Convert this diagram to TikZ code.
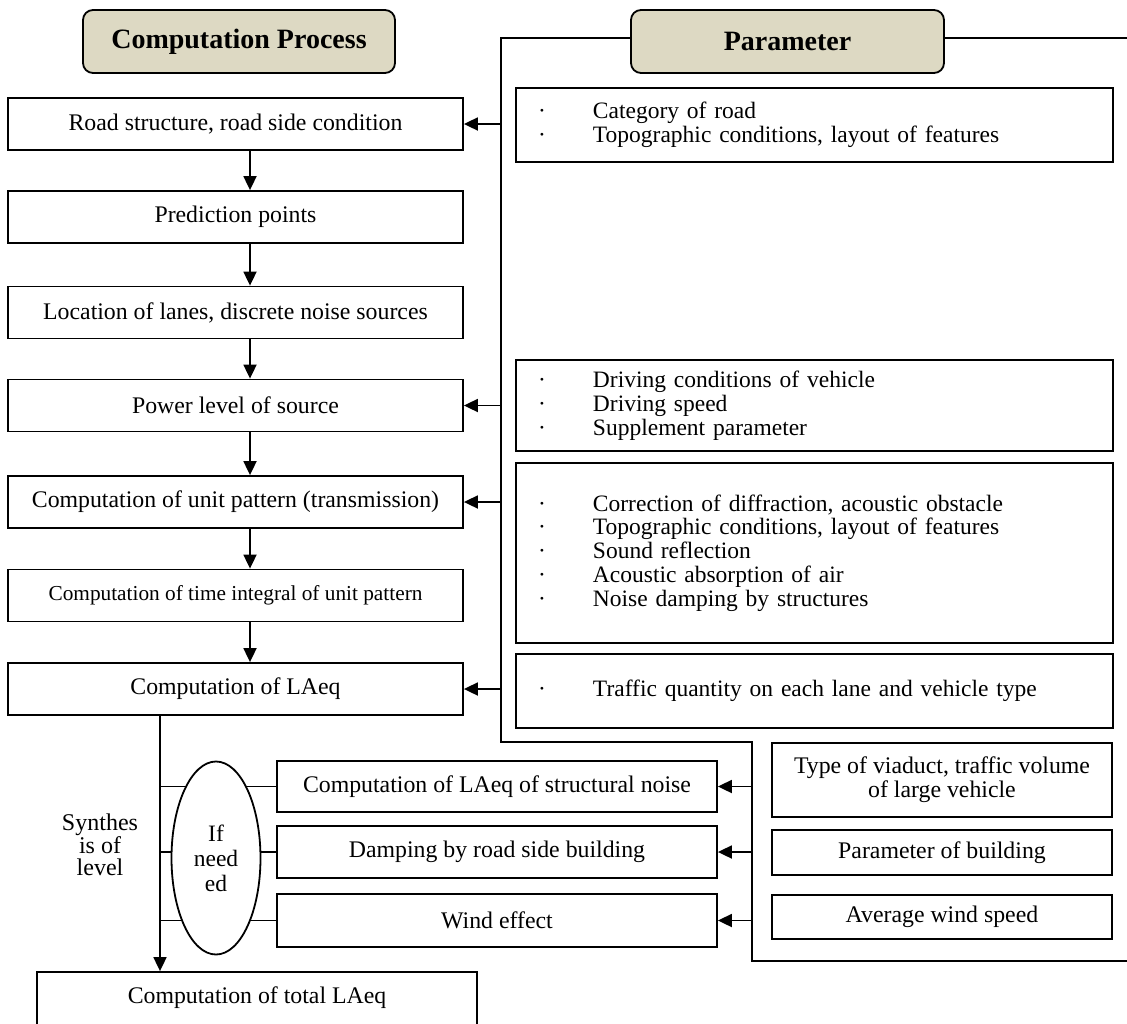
\documentclass[tikz,border=0pt]{standalone}
\usepackage{fontspec}
\setmainfont{Liberation Serif}
\usetikzlibrary{shapes.geometric,arrows.meta}
\definecolor{tanfill}{HTML}{DDD9C3}
\newcommand\parItem[1]{\hspace*{22pt}\makebox[55pt][l]{·}#1}
\begin{document}
\begin{tikzpicture}[x=1pt,y=-1pt,
  box/.style={draw, line width=1.8pt, minimum height=52pt, inner sep=0pt, font=\fontsize{23.8}{24}\selectfont, align=center},
  mainbox/.style={box, minimum width=455pt},
  subbox/.style={box, minimum width=440pt},
  rbox/.style={box, minimum width=340pt},
  titlebox/.style={draw, line width=1.8pt, fill=tanfill, rounded corners=10pt, minimum width=312pt, minimum height=63pt, font=\fontsize{28}{30}\selectfont\bfseries},
  parbox/.style={draw, line width=1.8pt, inner sep=0pt, minimum width=597pt, text width=597pt, align=left, font=\fontsize{23.5}{23.8}\selectfont},
  arr/.style={line width=1.8pt, -{Triangle[length=14pt,width=13pt]}},
  conn/.style={line width=1.8pt},
  bracket/.style={line width=2.6pt},
]
\useasboundingbox (0,0) rectangle (1127,1023);

% bracket around parameters
\coordinate (bA) at (1127,38);
\coordinate (bB) at (501,38);
\coordinate (bC) at (501,742);
\coordinate (bD) at (752,742);
\coordinate (bE) at (752,961);
\coordinate (bF) at (1127,961);
\draw[bracket] (bA) -- (bB) -- (bC) -- (bD) -- (bE) -- (bF);

% titles
\node[titlebox] (tcp) at (239,41.5) {Computation Process};
\node[titlebox, minimum width=313pt] (tpar) at (787.5,41.5) {Parameter};

% main process boxes
\node[mainbox] (road) at (235.5,124) {Road structure, road side condition};
\node[mainbox] (pred) at (235.5,217) {Prediction points};
\node[mainbox] (loc) at (235.5,312.5) {Location of lanes, discrete noise sources};
\node[mainbox] (pow) at (235.5,405.5) {Power level of source};
\node[mainbox] (unit) at (235.5,502) {Computation of unit pattern (transmission)};
\node[mainbox, font=\fontsize{21.3}{22}\selectfont] (tint) at (235.5,595.5) {Computation of time integral of unit pattern};
\node[mainbox] (laeq) at (235.5,689) {Computation of LAeq};
\node[box, minimum width=440pt, minimum height=56pt] (total) at (257,1000) {};
\node[font=\fontsize{23.8}{24}\selectfont] (totaltxt) at (257,998) {Computation of total LAeq};

% parameter boxes
\node[parbox, minimum height=74pt] (cat) at (814.5,125) {\parItem{Category of road}\\\parItem{Topographic conditions, layout of features}};
\node[parbox, minimum height=91pt] (drv) at (814.5,405.5) {\parItem{Driving conditions of vehicle}\\\parItem{Driving speed}\\\parItem{Supplement parameter}};
\node[parbox, minimum height=180pt] (corr) at (814.5,553) {\parItem{Correction of diffraction, acoustic obstacle}\\\parItem{Topographic conditions, layout of features}\\\parItem{Sound reflection}\\\parItem{Acoustic absorption of air}\\\parItem{Noise damping by structures}};
\node[parbox, minimum height=74pt] (traf) at (814.5,691) {\parItem{Traffic quantity on each lane and vehicle type}};

% sub boxes
\node[subbox, minimum height=51pt] (s1) at (497,786.5) {Computation of LAeq of structural noise};
\node[subbox] (s2) at (497,852) {Damping by road side building};
\node[subbox, minimum height=53pt] (s3) at (497,920.5) {Wind effect};

% right boxes
\node[rbox, minimum height=74pt] (r1) at (942,780) {Type of viaduct, traffic volume\\of large vehicle};
\node[rbox, minimum height=45pt] (r2) at (942,852.5) {Parameter of building};
\node[rbox, minimum height=44pt] (r3) at (942,917) {Average wind speed};

% vertical arrows in main chain
\coordinate (ax) at (250,0);
\draw[arr] (road.south -| ax) -- (pred.north -| ax);
\draw[arr] (pred.south -| ax) -- (loc.north -| ax);
\draw[arr] (loc.south -| ax) -- (pow.north -| ax);
\draw[arr] (pow.south -| ax) -- (unit.north -| ax);
\draw[arr] (unit.south -| ax) -- (tint.north -| ax);
\draw[arr] (tint.south -| ax) -- (laeq.north -| ax);

% arrows from bracket
\draw[arr] (road.east -| bB) -- (road.east);
\draw[arr] (pow.east -| bB) -- (pow.east);
\draw[arr] (unit.east -| bB) -- (unit.east);
\draw[arr] (laeq.east -| bB) -- (laeq.east);
\draw[arr] (s1.east -| bD) -- (s1.east);
\draw[arr] (s2.east -| bD) -- (s2.east);
\draw[arr] (s3.east -| bD) -- (s3.east);

% synthesis line
\coordinate (vx) at (160,0);
\draw[arr] (laeq.south -| vx) -- (total.north -| vx);
\draw[conn] (s1.west -| vx) -- (s1.west);
\draw[conn] (s2.west -| vx) -- (s2.west);
\draw[conn] (s3.west -| vx) -- (s3.west);

\node[draw, ellipse, line width=1.8pt, fill=white, minimum width=89pt, minimum height=193pt, inner sep=0pt, align=center, font=\fontsize{23.5}{25}\selectfont] (ifn) at (216,858) {If\\need\\ed};
\node[align=center, font=\fontsize{24}{22.5}\selectfont] (syn) at (100,845) {Synthes\\is of\\level};
\end{tikzpicture}
\end{document}
